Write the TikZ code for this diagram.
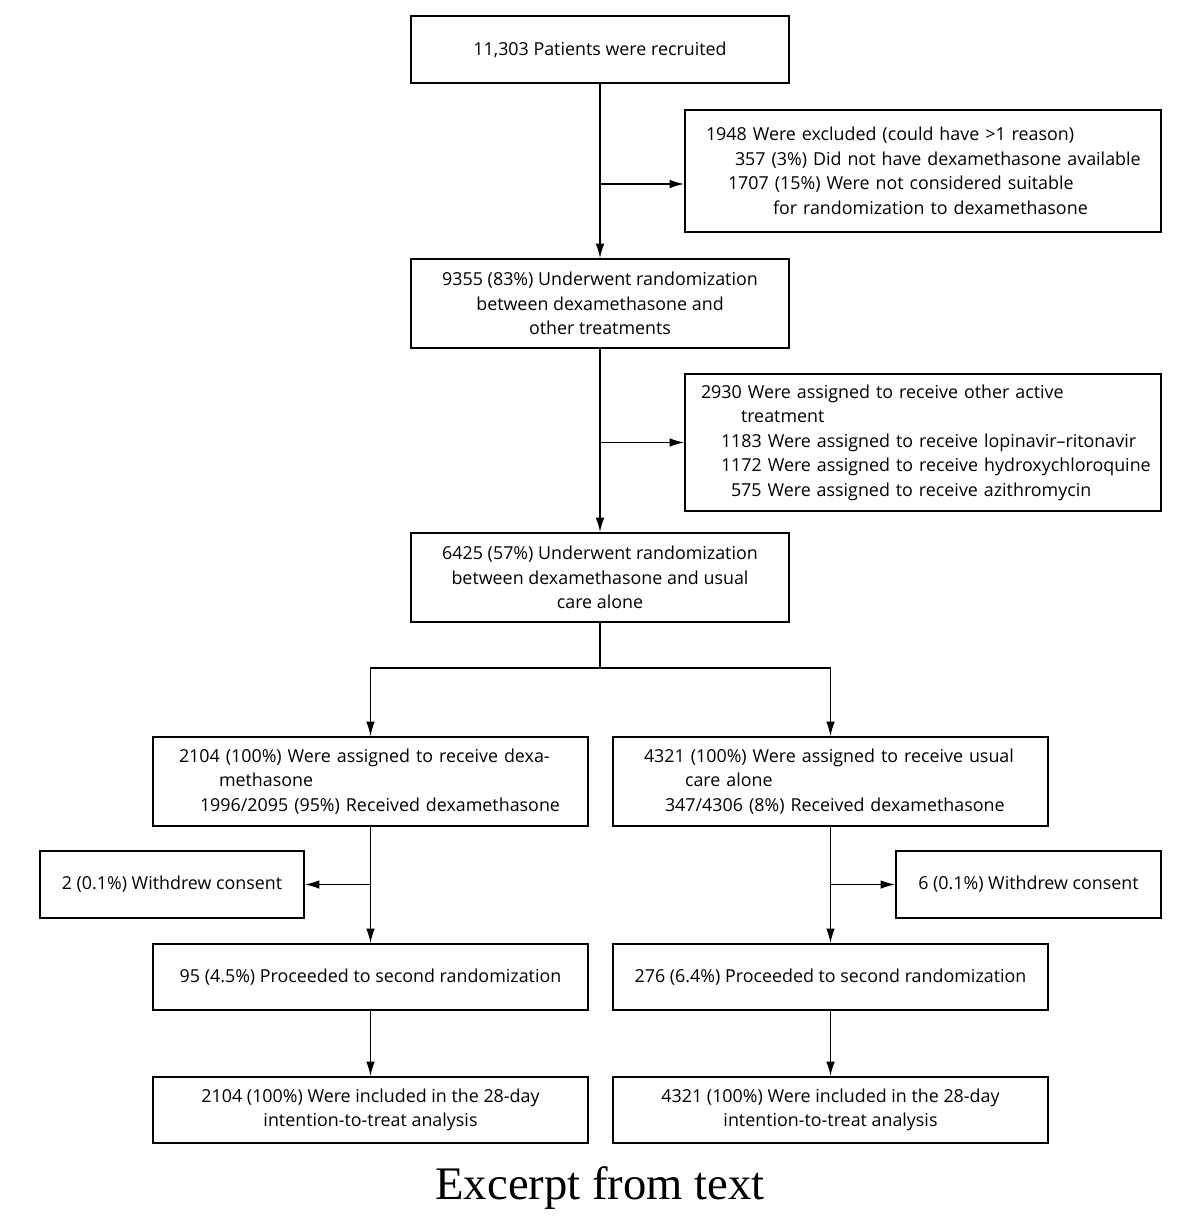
\documentclass[tikz,border=0pt]{standalone}
\usepackage{fontspec}
\setmainfont{Open Sans}
\newfontfamily\capfont{Liberation Serif}
\usetikzlibrary{arrows.meta,calc}
\begin{document}
\begin{tikzpicture}[x=0.75pt,y=-0.75pt,
  box/.style={draw,line width=1.2pt,inner sep=0pt,font=\fontsize{13.4pt}{18.4pt}\selectfont},
  cbox/.style={box,align=center},
  lbox/.style={box,align=left},
  arr/.style={line width=1.1pt,-{Latex[length=11pt,width=6.5pt]}},
  ln/.style={line width=1.1pt}]
\useasboundingbox (0,0) rectangle (1198,1224);
\node[cbox,minimum width=283.5pt,minimum height=50.25pt] (b1) at (600,49.5) {11,303 Patients were recruited};
\node[lbox,minimum width=357pt,minimum height=91.5pt,text width=325.5pt,inner xsep=15.75pt] (b2) at (923,171)
 {\mbox{1948 Were excluded (could have >1 reason)}\\
  \mbox{\hspace*{21.75pt}357 (3\%) Did not have dexamethasone available}\\
  \mbox{\hspace*{16.5pt}1707 (15\%) Were not considered suitable}\\
  \mbox{\hspace*{50.25pt}for randomization to dexamethasone}};
\node[cbox,minimum width=283.5pt,minimum height=66.75pt] (b3) at (600,303.5)
 {9355 (83\%) Underwent randomization\\between dexamethasone and\\other treatments};
\node[lbox,minimum width=357pt,minimum height=102.75pt,text width=333pt,inner xsep=12pt] (b4) at (923,442.5)
 {\mbox{2930 Were assigned to receive other active}\\
  \mbox{\hspace*{30pt}treatment}\\
  \mbox{\hspace*{15pt}1183 Were assigned to receive lopinavir--ritonavir}\\
  \mbox{\hspace*{15pt}1172 Were assigned to receive hydroxychloroquine}\\
  \mbox{\hspace*{22.5pt}575 Were assigned to receive azithromycin}};
\node[cbox,minimum width=283.5pt,minimum height=66.75pt] (b5) at (600,577.5)
 {6425 (57\%) Underwent randomization\\between dexamethasone and usual\\care alone};
\node[lbox,minimum width=326.25pt,minimum height=66.75pt,text width=287.25pt,inner xsep=19.5pt] (b6l) at (370.5,781.5)
 {\mbox{2104 (100\%) Were assigned to receive dexa-}\\
  \mbox{\hspace*{30pt}methasone}\\
  \mbox{\hspace*{15.75pt}1996/2095 (95\%) Received dexamethasone}};
\node[lbox,minimum width=326.25pt,minimum height=66.75pt,text width=279.75pt,inner xsep=23.25pt] (b6r) at (830.5,781.5)
 {\mbox{4321 (100\%) Were assigned to receive usual}\\
  \mbox{\hspace*{30.75pt}care alone}\\
  \mbox{\hspace*{15.75pt}347/4306 (8\%) Received dexamethasone}};
\node[cbox,minimum width=198pt,minimum height=50.25pt] (wl) at (172,884.5) {2 (0.1\%) Withdrew consent};
\node[cbox,minimum width=198.75pt,minimum height=50.25pt] (wr) at (1028.5,884.5) {6 (0.1\%) Withdrew consent};
\node[cbox,minimum width=326.25pt,minimum height=49.5pt] (b7l) at (370.5,977) {95 (4.5\%) Proceeded to second randomization};
\node[cbox,minimum width=326.25pt,minimum height=49.5pt] (b7r) at (830.5,977) {276 (6.4\%) Proceeded to second randomization};
\node[cbox,minimum width=326.25pt,minimum height=49.5pt] (b8l) at (370.5,1110) {2104 (100\%) Were included in the 28-day\\intention-to-treat analysis};
\node[cbox,minimum width=326.25pt,minimum height=49.5pt] (b8r) at (830.5,1110) {4321 (100\%) Were included in the 28-day\\intention-to-treat analysis};
\node[font=\capfont\fontsize{35pt}{40pt}\selectfont,inner sep=0pt] (cap) at (600,1188) {Excerpt from text};
% connectors
\coordinate (j1) at (600,184);
\coordinate (j2) at (600,442.5);
\coordinate (s) at (600,668);
\coordinate (jl) at (370.5,884.5);
\coordinate (jr) at (830.5,884.5);
\draw[arr] (b1.south) -- (b3.north);
\draw[arr] (j1) -- (j1 -| b2.west);
\draw[arr] (b3.south) -- (b5.north);
\draw[arr] (j2) -- (b4.west);
\draw[ln] (b5.south) -- (s);
\draw[arr] (s) -| (b6l.north);
\draw[arr] (s) -| (b6r.north);
\draw[arr] (b6l.south) -- (b7l.north);
\draw[arr] (b6r.south) -- (b7r.north);
\draw[arr] (jl) -- (wl.east);
\draw[arr] (jr) -- (wr.west);
\draw[arr] (b7l.south) -- (b8l.north);
\draw[arr] (b7r.south) -- (b8r.north);
\end{tikzpicture}
\end{document}
